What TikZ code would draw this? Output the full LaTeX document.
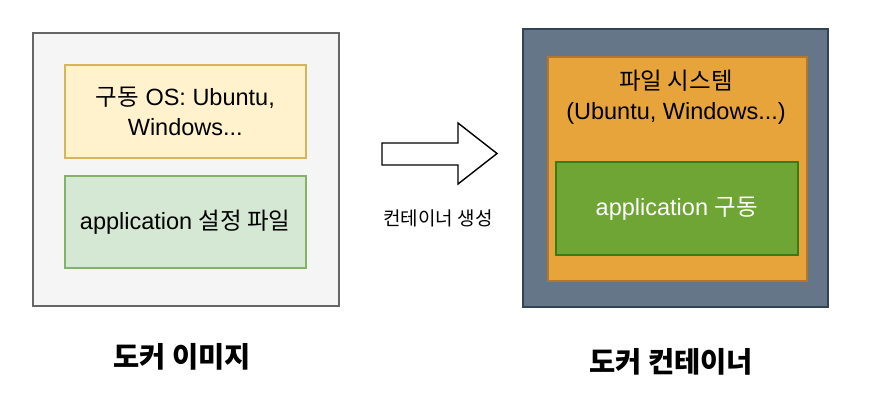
\documentclass[tikz,border=0pt]{standalone}
\usepackage{fontspec}
\setmainfont{Liberation Sans}
\newfontfamily\kr{Noto Sans CJK KR}
\definecolor{imgfill}{HTML}{F5F5F5}
\definecolor{imgline}{HTML}{666666}
\definecolor{yfill}{HTML}{FFF2CC}
\definecolor{yline}{HTML}{D6B656}
\definecolor{gfill}{HTML}{D5E8D4}
\definecolor{gline}{HTML}{82B366}
\definecolor{cfill}{HTML}{647687}
\definecolor{cline}{HTML}{314354}
\definecolor{ofill}{HTML}{E6A43B}
\definecolor{oline}{HTML}{B5762A}
\definecolor{agfill}{HTML}{6EA535}
\definecolor{agline}{HTML}{3A7A18}
\tikzset{
  box/.style={draw, line width=1.6pt, rectangle},
  lbl/.style={font=\fontsize{23.5}{30}\selectfont, align=center, inner sep=0pt},
  big/.style={font=\kr\bfseries\fontsize{28.5}{34}\selectfont, inner sep=0pt},
  small/.style={font=\kr\fontsize{19}{23}\selectfont, inner sep=0pt}
}
\begin{document}
\begin{tikzpicture}[x=1pt,y=-1pt]
\useasboundingbox[fill=white] (0,0) rectangle (874,408);
% left image
\draw[box, fill=imgfill, draw=imgline, line width=2pt] (33,33) rectangle (339,306);
\node[box, fill=yfill, draw=yline, minimum width=241pt, minimum height=93pt, anchor=north west] (os) at (64,64) {};
\node[lbl] at (os.center) {{\kr 구동} OS: Ubuntu,\\Windows...};
\node[box, fill=gfill, draw=gline, minimum width=241pt, minimum height=92pt, anchor=north west] (cfg) at (64,175) {};
\node[lbl] at (cfg.center) {application {\kr 설정 파일}};
% arrow
\coordinate (a1) at (382,143);
\draw[line width=1.4pt, fill=white, line join=miter]
  (a1) -- (458,143) -- (458,123) -- (497,153.5) -- (458,184) -- (458,165) -- (382,165) -- cycle;
\node[small] (mk) at (438,218) {컨테이너 생성};
% right container
\draw[box, fill=cfill, draw=cline, line width=2pt] (523,29) rectangle (828,307);
\node[box, fill=ofill, draw=oline, minimum width=259pt, minimum height=224pt, anchor=north west] (fs) at (547,56) {};
\node[lbl] at (676,97) {{\kr 파일 시스템}\\(Ubuntu, Windows...)};
\node[box, fill=agfill, draw=agline, minimum width=242pt, minimum height=93pt, anchor=north west] (app) at (555,161) {};
\node[lbl, text=white] at (app.center) {application {\kr 구동}};
% bottom labels
\node[big] (l1) at (182,357) {도커 이미지};
\node[big] (l2) at (671,362) {도커 컨테이너};
\end{tikzpicture}
\end{document}
